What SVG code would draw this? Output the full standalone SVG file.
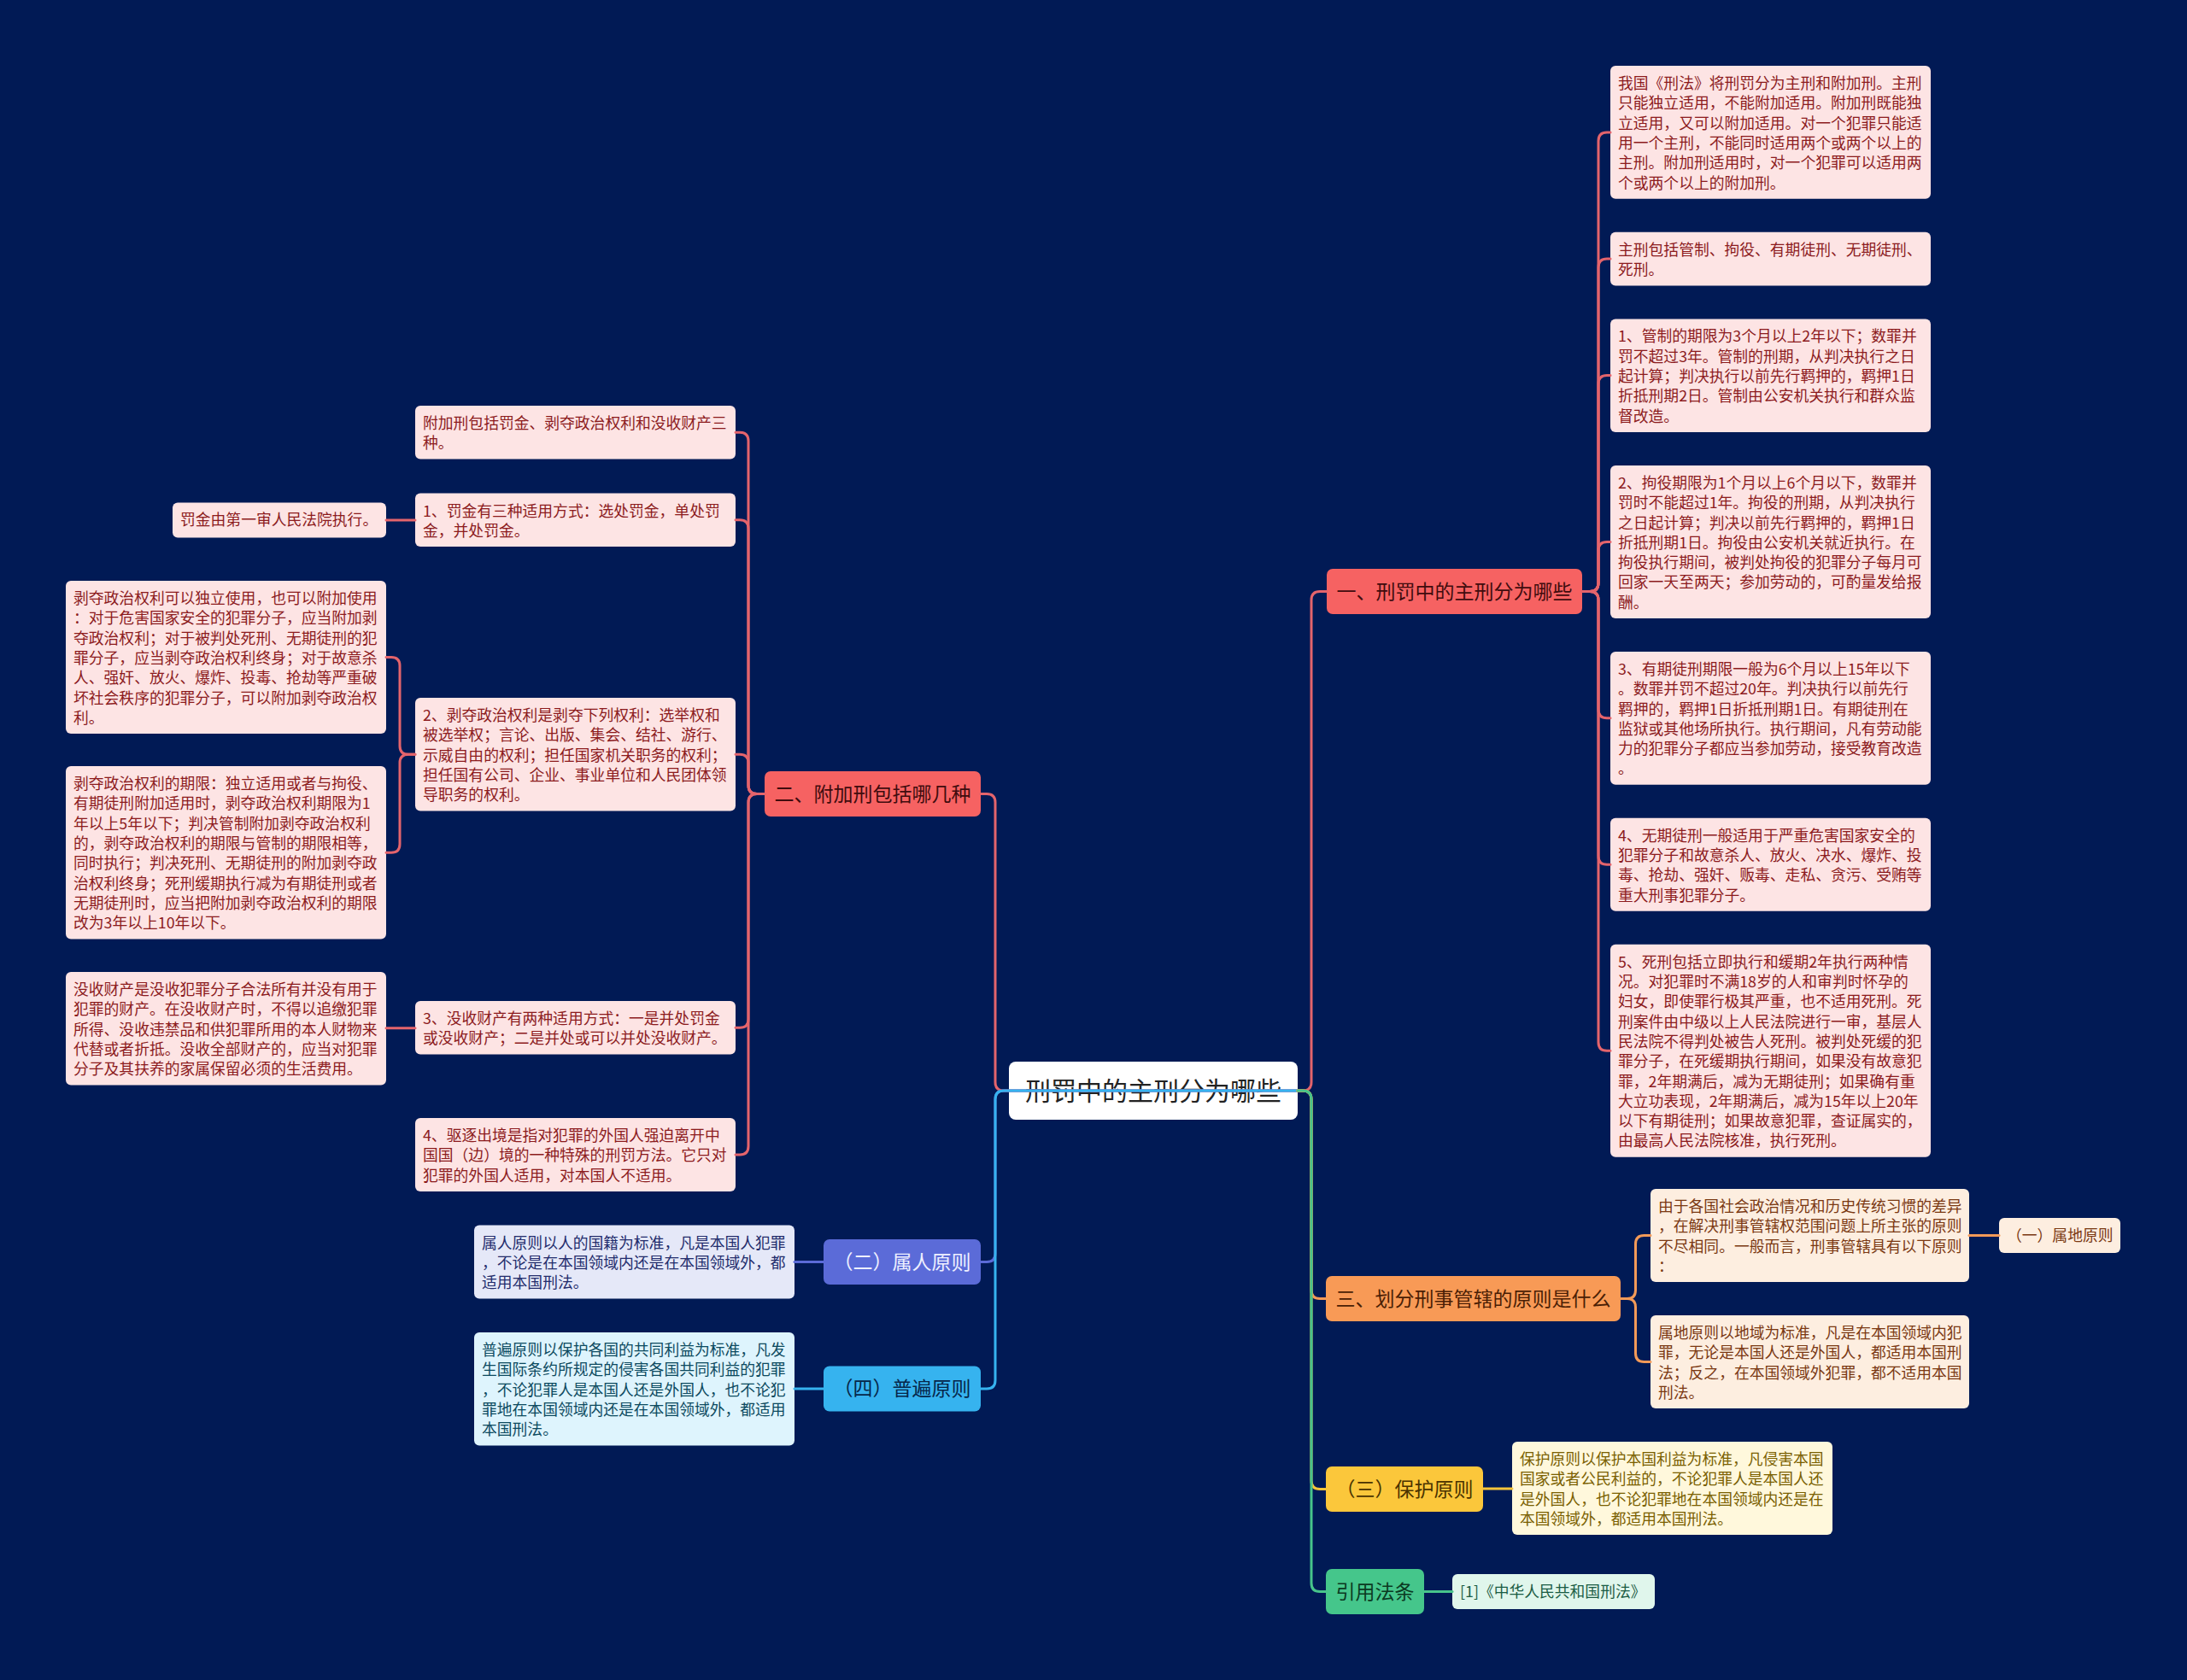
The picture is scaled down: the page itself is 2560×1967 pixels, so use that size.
<svg xmlns="http://www.w3.org/2000/svg" width="2560" height="1967" viewBox="0 0 2560 1967">
<style>
text{font-family:"Noto Sans CJK SC","Noto Sans",sans-serif}
.lf{font-size:17.8px}
.mn{font-size:23px;text-anchor:middle}
.c{fill:none;stroke-width:3;stroke-linecap:round;stroke-linejoin:round}
.cr{stroke:#e4646c}.cp{stroke:#5b6bd8}.cb{stroke:#36b3ef}.co{stroke:#f39a58}.cy{stroke:#f5c43a}.cg{stroke:#47c48b}
.nr{fill:#f66262}.tnr{fill:#400c0e}
.lr{fill:#fde4e4}.tlr{fill:#8c1b1d}
.np{fill:#5b6bd8}.tnp{fill:#eef0ff}
.lp{fill:#e5e8f8}.tlp{fill:#232c6c}
.nb{fill:#36b3ef}.tnb{fill:#06264a}
.lb{fill:#def4fd}.tlb{fill:#0c4a60}
.no{fill:#f89a56}.tno{fill:#4a1e05}
.lo{fill:#fdeee0}.tlo{fill:#7a3812}
.ny{fill:#fbc73b}.tny{fill:#4a3300}
.ly{fill:#fff8dc}.tly{fill:#7a6000}
.ng{fill:#45c68b}.tng{fill:#0b3a22}
.lg{fill:#e0f6ec}.tlg{fill:#1b5c44}
</style>
<rect width="2560" height="1967" fill="#011a55"/>

<g id="nodes">
<g id="root"><rect x="1181" y="1243" width="338" height="68" rx="8" fill="#ffffff"/><text x="1350" y="1288" font-size="30" text-anchor="middle" fill="#222222">刑罚中的主刑分为哪些</text></g>

<g id="n1"><rect class="nr" x="1553" y="666" width="299" height="53" rx="7"/><text class="mn tnr" x="1702.5" y="700.5">一、刑罚中的主刑分为哪些</text></g>
<g id="n1a"><rect class="lr" x="1885" y="77" width="375" height="155.8" rx="6"/><text class="lf tlr"><tspan x="1894" y="104">我国《刑法》将刑罚分为主刑和附加刑。主刑</tspan><tspan x="1894" y="127.3">只能独立适用，不能附加适用。附加刑既能独</tspan><tspan x="1894" y="150.6">立适用，又可以附加适用。对一个犯罪只能适</tspan><tspan x="1894" y="173.9">用一个主刑，不能同时适用两个或两个以上的</tspan><tspan x="1894" y="197.2">主刑。附加刑适用时，对一个犯罪可以适用两</tspan><tspan x="1894" y="220.5">个或两个以上的附加刑。</tspan></text></g>
<g id="n1b"><rect class="lr" x="1885" y="271.8" width="375" height="62.6" rx="6"/><text class="lf tlr"><tspan x="1894" y="298.8">主刑包括管制、拘役、有期徒刑、无期徒刑、</tspan><tspan x="1894" y="322.1">死刑。</tspan></text></g>
<g id="n1c"><rect class="lr" x="1885" y="373.4" width="375" height="132.5" rx="6"/><text class="lf tlr"><tspan x="1894" y="400.4">1、管制的期限为3个月以上2年以下；数罪并</tspan><tspan x="1894" y="423.7">罚不超过3年。管制的刑期，从判决执行之日</tspan><tspan x="1894" y="447">起计算；判决执行以前先行羁押的，羁押1日</tspan><tspan x="1894" y="470.3">折抵刑期2日。管制由公安机关执行和群众监</tspan><tspan x="1894" y="493.6">督改造。</tspan></text></g>
<g id="n1d"><rect class="lr" x="1885" y="544.9" width="375" height="179" rx="6"/><text class="lf tlr"><tspan x="1894" y="571.9">2、拘役期限为1个月以上6个月以下，数罪并</tspan><tspan x="1894" y="595.2">罚时不能超过1年。拘役的刑期，从判决执行</tspan><tspan x="1894" y="618.5">之日起计算；判决以前先行羁押的，羁押1日</tspan><tspan x="1894" y="641.8">折抵刑期1日。拘役由公安机关就近执行。在</tspan><tspan x="1894" y="665.1">拘役执行期间，被判处拘役的犯罪分子每月可</tspan><tspan x="1894" y="688.4">回家一天至两天；参加劳动的，可酌量发给报</tspan><tspan x="1894" y="711.7">酬。</tspan></text></g>
<g id="n1e"><rect class="lr" x="1885" y="762.9" width="375" height="155.8" rx="6"/><text class="lf tlr"><tspan x="1894" y="789.9">3、有期徒刑期限一般为6个月以上15年以下</tspan><tspan x="1894" y="813.2">。数罪并罚不超过20年。判决执行以前先行</tspan><tspan x="1894" y="836.5">羁押的，羁押1日折抵刑期1日。有期徒刑在</tspan><tspan x="1894" y="859.8">监狱或其他场所执行。执行期间，凡有劳动能</tspan><tspan x="1894" y="883.1">力的犯罪分子都应当参加劳动，接受教育改造</tspan><tspan x="1894" y="906.4">。</tspan></text></g>
<g id="n1f"><rect class="lr" x="1885" y="957.7" width="375" height="109" rx="6"/><text class="lf tlr"><tspan x="1894" y="984.7">4、无期徒刑一般适用于严重危害国家安全的</tspan><tspan x="1894" y="1008">犯罪分子和故意杀人、放火、决水、爆炸、投</tspan><tspan x="1894" y="1031.3">毒、抢劫、强奸、贩毒、走私、贪污、受贿等</tspan><tspan x="1894" y="1054.6">重大刑事犯罪分子。</tspan></text></g>
<g id="n1g"><rect class="lr" x="1885" y="1105.7" width="375" height="249" rx="6"/><text class="lf tlr"><tspan x="1894" y="1132.7">5、死刑包括立即执行和缓期2年执行两种情</tspan><tspan x="1894" y="1156">况。对犯罪时不满18岁的人和审判时怀孕的</tspan><tspan x="1894" y="1179.3">妇女，即使罪行极其严重，也不适用死刑。死</tspan><tspan x="1894" y="1202.6">刑案件由中级以上人民法院进行一审，基层人</tspan><tspan x="1894" y="1225.9">民法院不得判处被告人死刑。被判处死缓的犯</tspan><tspan x="1894" y="1249.2">罪分子，在死缓期执行期间，如果没有故意犯</tspan><tspan x="1894" y="1272.5">罪，2年期满后，减为无期徒刑；如果确有重</tspan><tspan x="1894" y="1295.8">大立功表现，2年期满后，减为15年以上20年</tspan><tspan x="1894" y="1319.1">以下有期徒刑；如果故意犯罪，查证属实的，</tspan><tspan x="1894" y="1342.4">由最高人民法院核准，执行死刑。</tspan></text></g>

<g id="n2"><rect class="nr" x="895" y="903" width="253" height="53" rx="7"/><text class="mn tnr" x="1021.5" y="937.5">二、附加刑包括哪几种</text></g>
<g id="n2a"><rect class="lr" x="486" y="475" width="375" height="62.6" rx="6"/><text class="lf tlr"><tspan x="495" y="502">附加刑包括罚金、剥夺政治权利和没收财产三</tspan><tspan x="495" y="525.3">种。</tspan></text></g>
<g id="n2b"><rect class="lr" x="486" y="577.5" width="375" height="62.6" rx="6"/><text class="lf tlr"><tspan x="495" y="604.5">1、罚金有三种适用方式：选处罚金，单处罚</tspan><tspan x="495" y="627.8">金，并处罚金。</tspan></text></g>
<g id="n2b1"><rect class="lr" x="202" y="588.5" width="250" height="41" rx="6"/><text class="lf tlr" x="211" y="615">罚金由第一审人民法院执行。</text></g>
<g id="n2c"><rect class="lr" x="486" y="817" width="375" height="132.5" rx="6"/><text class="lf tlr"><tspan x="495" y="844">2、剥夺政治权利是剥夺下列权利：选举权和</tspan><tspan x="495" y="867.3">被选举权；言论、出版、集会、结社、游行、</tspan><tspan x="495" y="890.6">示威自由的权利；担任国家机关职务的权利；</tspan><tspan x="495" y="913.9">担任国有公司、企业、事业单位和人民团体领</tspan><tspan x="495" y="937.2">导职务的权利。</tspan></text></g>
<g id="n2c1"><rect class="lr" x="77" y="680" width="375" height="179" rx="6"/><text class="lf tlr"><tspan x="86" y="707">剥夺政治权利可以独立使用，也可以附加使用</tspan><tspan x="86" y="730.3">：对于危害国家安全的犯罪分子，应当附加剥</tspan><tspan x="86" y="753.6">夺政治权利；对于被判处死刑、无期徒刑的犯</tspan><tspan x="86" y="776.9">罪分子，应当剥夺政治权利终身；对于故意杀</tspan><tspan x="86" y="800.2">人、强奸、放火、爆炸、投毒、抢劫等严重破</tspan><tspan x="86" y="823.5">坏社会秩序的犯罪分子，可以附加剥夺政治权</tspan><tspan x="86" y="846.8">利。</tspan></text></g>
<g id="n2c2"><rect class="lr" x="77" y="897" width="375" height="202.4" rx="6"/><text class="lf tlr"><tspan x="86" y="924">剥夺政治权利的期限：独立适用或者与拘役、</tspan><tspan x="86" y="947.3">有期徒刑附加适用时，剥夺政治权利期限为1</tspan><tspan x="86" y="970.6">年以上5年以下；判决管制附加剥夺政治权利</tspan><tspan x="86" y="993.9">的，剥夺政治权利的期限与管制的期限相等，</tspan><tspan x="86" y="1017.2">同时执行；判决死刑、无期徒刑的附加剥夺政</tspan><tspan x="86" y="1040.5">治权利终身；死刑缓期执行减为有期徒刑或者</tspan><tspan x="86" y="1063.8">无期徒刑时，应当把附加剥夺政治权利的期限</tspan><tspan x="86" y="1087.1">改为3年以上10年以下。</tspan></text></g>
<g id="n2d"><rect class="lr" x="486" y="1172" width="375" height="62.6" rx="6"/><text class="lf tlr"><tspan x="495" y="1199">3、没收财产有两种适用方式：一是并处罚金</tspan><tspan x="495" y="1222.3">或没收财产；二是并处或可以并处没收财产。</tspan></text></g>
<g id="n2d1"><rect class="lr" x="77" y="1138" width="375" height="132.5" rx="6"/><text class="lf tlr"><tspan x="86" y="1165">没收财产是没收犯罪分子合法所有并没有用于</tspan><tspan x="86" y="1188.3">犯罪的财产。在没收财产时，不得以追缴犯罪</tspan><tspan x="86" y="1211.6">所得、没收违禁品和供犯罪所用的本人财物来</tspan><tspan x="86" y="1234.9">代替或者折抵。没收全部财产的，应当对犯罪</tspan><tspan x="86" y="1258.2">分子及其扶养的家属保留必须的生活费用。</tspan></text></g>
<g id="n2e"><rect class="lr" x="486" y="1309" width="375" height="85.9" rx="6"/><text class="lf tlr"><tspan x="495" y="1336">4、驱逐出境是指对犯罪的外国人强迫离开中</tspan><tspan x="495" y="1359.3">国国（边）境的一种特殊的刑罚方法。它只对</tspan><tspan x="495" y="1382.6">犯罪的外国人适用，对本国人不适用。</tspan></text></g>

<g id="n3"><rect class="np" x="964" y="1451" width="184" height="53" rx="7"/><text class="mn tnp" x="1056" y="1485.5">（二）属人原则</text></g>
<g id="n3a"><rect class="lp" x="555" y="1434.5" width="375" height="85.9" rx="6"/><text class="lf tlp"><tspan x="564" y="1461.5">属人原则以人的国籍为标准，凡是本国人犯罪</tspan><tspan x="564" y="1484.8">，不论是在本国领域内还是在本国领域外，都</tspan><tspan x="564" y="1508.1">适用本国刑法。</tspan></text></g>

<g id="n4"><rect class="nb" x="964" y="1599.5" width="184" height="53" rx="7"/><text class="mn tnb" x="1056" y="1634">（四）普遍原则</text></g>
<g id="n4a"><rect class="lb" x="555" y="1560" width="375" height="132.5" rx="6"/><text class="lf tlb"><tspan x="564" y="1587">普遍原则以保护各国的共同利益为标准，凡发</tspan><tspan x="564" y="1610.3">生国际条约所规定的侵害各国共同利益的犯罪</tspan><tspan x="564" y="1633.6">，不论犯罪人是本国人还是外国人，也不论犯</tspan><tspan x="564" y="1656.9">罪地在本国领域内还是在本国领域外，都适用</tspan><tspan x="564" y="1680.2">本国刑法。</tspan></text></g>

<g id="n5"><rect class="no" x="1552" y="1494" width="345" height="53" rx="7"/><text class="mn tno" x="1724.5" y="1528.5">三、划分刑事管辖的原则是什么</text></g>
<g id="n5a"><rect class="lo" x="1932" y="1392" width="373" height="109" rx="6"/><text class="lf tlo"><tspan x="1941" y="1419">由于各国社会政治情况和历史传统习惯的差异</tspan><tspan x="1941" y="1442.3">，在解决刑事管辖权范围问题上所主张的原则</tspan><tspan x="1941" y="1465.6">不尽相同。一般而言，刑事管辖具有以下原则</tspan><tspan x="1941" y="1488.9">：</tspan></text></g>
<g id="n5a1"><rect class="lo" x="2340" y="1426" width="142" height="41" rx="6"/><text class="lf tlo" x="2349" y="1453">（一）属地原则</text></g>
<g id="n5b"><rect class="lo" x="1932" y="1540" width="373" height="109" rx="6"/><text class="lf tlo"><tspan x="1941" y="1567">属地原则以地域为标准，凡是在本国领域内犯</tspan><tspan x="1941" y="1590.3">罪，无论是本国人还是外国人，都适用本国刑</tspan><tspan x="1941" y="1613.6">法；反之，在本国领域外犯罪，都不适用本国</tspan><tspan x="1941" y="1636.9">刑法。</tspan></text></g>

<g id="n6"><rect class="ny" x="1552" y="1717" width="184" height="53" rx="7"/><text class="mn tny" x="1644" y="1751.5">（三）保护原则</text></g>
<g id="n6a"><rect class="ly" x="1770" y="1688" width="375" height="109" rx="6"/><text class="lf tly"><tspan x="1779" y="1715">保护原则以保护本国利益为标准，凡侵害本国</tspan><tspan x="1779" y="1738.3">国家或者公民利益的，不论犯罪人是本国人还</tspan><tspan x="1779" y="1761.6">是外国人，也不论犯罪地在本国领域内还是在</tspan><tspan x="1779" y="1784.9">本国领域外，都适用本国刑法。</tspan></text></g>

<g id="n7"><rect class="ng" x="1552" y="1837" width="115" height="53" rx="7"/><text class="mn tng" x="1609.5" y="1871.5">引用法条</text></g>
<g id="n7a"><rect class="lg" x="1700" y="1843" width="237" height="41" rx="6"/><text class="lf tlg" x="1709" y="1870">[1]《中华人民共和国刑法》</text></g>
</g>

<g id="connectors">
<path class="c cr" d="M1519 1277 H1175 Q1165 1277 1165 1267 V939.5 Q1165 929.5 1155 929.5 H1148"/>
<path class="c cp" d="M1519 1277 H1175 Q1165 1277 1165 1287 V1467.5 Q1165 1477.5 1155 1477.5 H1148"/>
<path class="c cb" d="M1519 1277 H1175 Q1165 1277 1165 1287 V1616 Q1165 1626 1155 1626 H1148"/>
<path class="c cr" d="M1519 1277 H1525 Q1535 1277 1535 1267 V702.5 Q1535 692.5 1545 692.5 H1553"/>
<path class="c co" d="M1519 1277 H1525 Q1535 1277 1535 1287 V1510.5 Q1535 1520.5 1545 1520.5 H1552"/>
<path class="c cy" d="M1519 1277 H1525 Q1535 1277 1535 1287 V1733.5 Q1535 1743.5 1545 1743.5 H1552"/>
<path class="c cg" d="M1519 1277 H1525 Q1535 1277 1535 1287 V1853.5 Q1535 1863.5 1545 1863.5 H1552"/>

<path class="c cr" d="M1852 692.5 H1861 Q1871 692.5 1871 682.5 V164.9 Q1871 154.9 1881 154.9 H1885"/>
<path class="c cr" d="M1852 692.5 H1861 Q1871 692.5 1871 682.5 V313.1 Q1871 303.1 1881 303.1 H1885"/>
<path class="c cr" d="M1852 692.5 H1861 Q1871 692.5 1871 682.5 V449.6 Q1871 439.6 1881 439.6 H1885"/>
<path class="c cr" d="M1852 692.5 H1861 Q1871 692.5 1871 682.5 V644.4 Q1871 634.4 1881 634.4 H1885"/>
<path class="c cr" d="M1852 692.5 H1861 Q1871 692.5 1871 702.5 V830.8 Q1871 840.8 1881 840.8 H1885"/>
<path class="c cr" d="M1852 692.5 H1861 Q1871 692.5 1871 702.5 V1002.2 Q1871 1012.2 1881 1012.2 H1885"/>
<path class="c cr" d="M1852 692.5 H1861 Q1871 692.5 1871 702.5 V1220.2 Q1871 1230.2 1881 1230.2 H1885"/>

<path class="c cr" d="M895 929.5 H886 Q876 929.5 876 919.5 V516.3 Q876 506.3 866 506.3 H861"/>
<path class="c cr" d="M895 929.5 H886 Q876 929.5 876 919.5 V618.8 Q876 608.8 866 608.8 H861"/>
<path class="c cr" d="M895 929.5 H886 Q876 929.5 876 919.5 V893.3 Q876 883.3 866 883.3 H861"/>
<path class="c cr" d="M895 929.5 H886 Q876 929.5 876 939.5 V1193.3 Q876 1203.3 866 1203.3 H861"/>
<path class="c cr" d="M895 929.5 H886 Q876 929.5 876 939.5 V1342 Q876 1352 866 1352 H861"/>
<path class="c cr" d="M486 609 H452"/>
<path class="c cr" d="M486 883.3 H478 Q468 883.3 468 873.3 V779.5 Q468 769.5 458 769.5 H452"/>
<path class="c cr" d="M486 883.3 H478 Q468 883.3 468 893.3 V988.2 Q468 998.2 458 998.2 H452"/>
<path class="c cr" d="M486 1203.7 H452"/>

<path class="c cp" d="M964 1477.5 H930"/>
<path class="c cb" d="M964 1626 H930"/>

<path class="c co" d="M1897 1520.5 H1904.5 Q1914.5 1520.5 1914.5 1510.5 V1456.5 Q1914.5 1446.5 1924.5 1446.5 H1932"/>
<path class="c co" d="M1897 1520.5 H1904.5 Q1914.5 1520.5 1914.5 1530.5 V1584.5 Q1914.5 1594.5 1924.5 1594.5 H1932"/>
<path class="c co" d="M2305 1446.5 H2340"/>
<path class="c cy" d="M1736 1743 H1770"/>
<path class="c cg" d="M1667 1863.5 H1700"/>
</g>
</svg>
